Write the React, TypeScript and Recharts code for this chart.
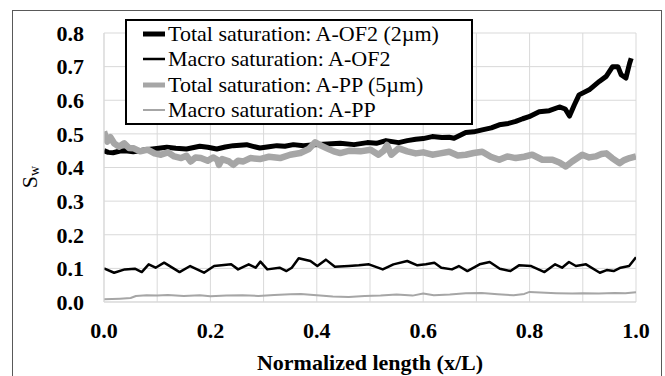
import { LineChart, Line, XAxis, YAxis, CartesianGrid, Legend } from "recharts";

// Total saturation A-OF2 (2um)
const ofTotalX = [0, 0.008, 0.017, 0.03, 0.04, 0.055, 0.075, 0.095, 0.118, 0.135, 0.155, 0.18, 0.195, 0.212, 0.228, 0.243, 0.268, 0.28, 0.293, 0.31, 0.325, 0.34, 0.356, 0.375, 0.395, 0.42, 0.444, 0.47, 0.495, 0.512, 0.53, 0.554, 0.57, 0.586, 0.6, 0.617, 0.635, 0.649, 0.658, 0.68, 0.695, 0.711, 0.728, 0.743, 0.76, 0.774, 0.787, 0.799, 0.818, 0.837, 0.856, 0.867, 0.875, 0.884, 0.893, 0.912, 0.931, 0.944, 0.956, 0.966, 0.972, 0.981, 0.988, 0.991];
const ofTotalY = [0.45, 0.445, 0.444, 0.449, 0.45, 0.447, 0.452, 0.456, 0.46, 0.457, 0.455, 0.463, 0.46, 0.455, 0.461, 0.465, 0.468, 0.463, 0.458, 0.462, 0.465, 0.463, 0.468, 0.465, 0.468, 0.47, 0.472, 0.468, 0.474, 0.472, 0.48, 0.474, 0.48, 0.484, 0.486, 0.492, 0.489, 0.49, 0.487, 0.504, 0.506, 0.512, 0.518, 0.527, 0.531, 0.537, 0.545, 0.551, 0.566, 0.569, 0.58, 0.574, 0.553, 0.586, 0.616, 0.631, 0.656, 0.671, 0.7, 0.7, 0.676, 0.666, 0.71, 0.725];

// Macro saturation A-OF2
const ofMacroX = [0, 0.019, 0.039, 0.058, 0.071, 0.084, 0.097, 0.113, 0.142, 0.162, 0.188, 0.207, 0.239, 0.252, 0.272, 0.285, 0.294, 0.307, 0.33, 0.343, 0.353, 0.366, 0.388, 0.401, 0.417, 0.434, 0.46, 0.479, 0.498, 0.524, 0.544, 0.57, 0.589, 0.605, 0.621, 0.634, 0.654, 0.667, 0.683, 0.706, 0.725, 0.744, 0.764, 0.78, 0.803, 0.828, 0.848, 0.861, 0.874, 0.887, 0.906, 0.932, 0.945, 0.958, 0.971, 0.987, 1];
const ofMacroY = [0.1, 0.087, 0.097, 0.099, 0.089, 0.112, 0.102, 0.117, 0.089, 0.107, 0.087, 0.107, 0.112, 0.097, 0.112, 0.102, 0.12, 0.097, 0.102, 0.092, 0.102, 0.13, 0.122, 0.107, 0.126, 0.105, 0.107, 0.109, 0.112, 0.097, 0.112, 0.122, 0.109, 0.112, 0.117, 0.102, 0.097, 0.107, 0.092, 0.112, 0.119, 0.099, 0.092, 0.109, 0.107, 0.089, 0.112, 0.102, 0.119, 0.107, 0.112, 0.087, 0.095, 0.092, 0.102, 0.107, 0.133];

// Total saturation A-PP (5um)
const ppTotalX = [0, 0.006, 0.012, 0.019, 0.028, 0.038, 0.047, 0.056, 0.068, 0.082, 0.095, 0.107, 0.12, 0.132, 0.145, 0.155, 0.163, 0.172, 0.182, 0.195, 0.205, 0.213, 0.216, 0.222, 0.235, 0.243, 0.252, 0.262, 0.275, 0.293, 0.31, 0.331, 0.35, 0.369, 0.385, 0.397, 0.408, 0.419, 0.432, 0.444, 0.462, 0.482, 0.501, 0.516, 0.526, 0.532, 0.54, 0.554, 0.57, 0.586, 0.6, 0.617, 0.632, 0.649, 0.665, 0.68, 0.695, 0.711, 0.727, 0.743, 0.758, 0.774, 0.79, 0.805, 0.824, 0.843, 0.856, 0.868, 0.88, 0.899, 0.912, 0.924, 0.935, 0.944, 0.955, 0.969, 0.978, 0.988, 1];
const ppTotalY = [0.507, 0.477, 0.49, 0.472, 0.462, 0.472, 0.458, 0.457, 0.448, 0.453, 0.442, 0.438, 0.445, 0.433, 0.428, 0.435, 0.418, 0.43, 0.428, 0.42, 0.43, 0.423, 0.408, 0.425, 0.418, 0.408, 0.42, 0.418, 0.428, 0.425, 0.432, 0.428, 0.438, 0.443, 0.455, 0.475, 0.465, 0.457, 0.448, 0.443, 0.45, 0.448, 0.453, 0.438, 0.45, 0.467, 0.438, 0.457, 0.448, 0.442, 0.445, 0.438, 0.442, 0.447, 0.436, 0.438, 0.443, 0.447, 0.432, 0.423, 0.433, 0.428, 0.432, 0.438, 0.423, 0.423, 0.415, 0.403, 0.418, 0.438, 0.43, 0.433, 0.44, 0.442, 0.428, 0.413, 0.422, 0.428, 0.433];

// Macro saturation A-PP
const ppMacroX = [0, 0.03, 0.05, 0.06, 0.08, 0.1, 0.12, 0.15, 0.18, 0.2, 0.23, 0.26, 0.29, 0.32, 0.35, 0.37, 0.4, 0.43, 0.46, 0.49, 0.52, 0.55, 0.58, 0.6, 0.62, 0.65, 0.68, 0.71, 0.74, 0.77, 0.79, 0.8, 0.82, 0.85, 0.88, 0.9, 0.93, 0.96, 0.98, 1];
const ppMacroY = [0.008, 0.01, 0.012, 0.018, 0.02, 0.019, 0.021, 0.018, 0.02, 0.017, 0.019, 0.02, 0.018, 0.021, 0.023, 0.024, 0.02, 0.016, 0.015, 0.018, 0.019, 0.022, 0.019, 0.025, 0.02, 0.022, 0.026, 0.027, 0.023, 0.02, 0.024, 0.03, 0.028, 0.026, 0.025, 0.026, 0.025, 0.027, 0.026, 0.029];

const xTicks = [0, 0.1, 0.2, 0.3, 0.4, 0.5, 0.6, 0.7, 0.8, 0.9, 1];
const yTicks = [0, 0.1, 0.2, 0.3, 0.4, 0.5, 0.6, 0.7, 0.8];

const toPts = (xs: number[], ys: number[]) => xs.map((x, i) => ({ x, y: ys[i] }));

const SERIES = [
  { name: "Total saturation: A-OF2 (2\u00b5m)", data: toPts(ofTotalX, ofTotalY), color: "#000000", width: 5 },
  { name: "Macro saturation: A-OF2", data: toPts(ofMacroX, ofMacroY), color: "#000000", width: 2.5 },
  { name: "Total saturation: A-PP (5\u00b5m)", data: toPts(ppTotalX, ppTotalY), color: "#a6a6a6", width: 6.5 },
  { name: "Macro saturation: A-PP", data: toPts(ppMacroX, ppMacroY), color: "#a6a6a6", width: 2 },
];

const FONT = '"Liberation Serif", "Times New Roman", Times, "DejaVu Serif", serif';
const tickStyle = { fontSize: 22, fontWeight: 700, fill: "#000", fontFamily: FONT };

function LegendBox() {
  return (
    <div style={{ border: "2px solid #000", background: "#fff", fontFamily: FONT, fontSize: 22, color: "#000", boxSizing: "border-box", width: 348, height: 106 }}>
      {SERIES.map((s) => (
        <div key={s.name} style={{ display: "flex", alignItems: "center", height: 25.5, whiteSpace: "nowrap" }}>
          <svg width={40} height={12} style={{ flexShrink: 0 }}>
            <line x1={16} x2={38} y1={6} y2={6} stroke={s.color} strokeWidth={Math.min(s.width, 5)} />
          </svg>
          <span style={{ marginLeft: 1 }}>{s.name}</span>
        </div>
      ))}
    </div>
  );
}

function SwLabel() {
  return (
    <text x={29} y={177} transform="rotate(-90, 29, 177)" textAnchor="middle" dominantBaseline="central"
      fontFamily={FONT} fontSize={22} fill="#000">
      S<tspan fontSize={14} dy={5}>w</tspan>
    </text>
  );
}

export default function App() {
  return (
    <div style={{ position: "absolute", left: 0, top: 0, width: 665, height: 376, overflow: "hidden", background: "#fff" }}>
      <div style={{ position: "absolute", left: 12, top: 10, width: 650, height: 400, border: "1px solid #595959", boxSizing: "border-box" }} />
      <div style={{ position: "absolute", left: 0, top: 0 }}>
        <LineChart width={665} height={376} margin={{ top: 33, right: 29, bottom: 4, left: 0 }}>
          <CartesianGrid stroke="#d9d9d9" strokeWidth={1} />
          <XAxis type="number" dataKey="x" domain={[0, 1]} ticks={xTicks} allowDataOverflow
            tickFormatter={(v: number) => (Math.round(v * 10) % 2 === 0 ? v.toFixed(1) : "")}
            tick={tickStyle} tickLine={false} axisLine={{ stroke: "#d9d9d9" }} tickMargin={14} height={70}
            label={{ value: "Normalized length (x/L)", position: "insideBottom", offset: 2, style: { fontSize: 22, fontWeight: 700, fill: "#000", fontFamily: FONT } }} />
          <YAxis type="number" domain={[0, 0.8]} ticks={yTicks} allowDataOverflow width={104}
            tickFormatter={(v: number) => v.toFixed(1)}
            tick={tickStyle} tickLine={false} axisLine={{ stroke: "#d9d9d9" }} tickMargin={14}
            label={<SwLabel />} />
          {SERIES.map((s) => (
            <Line key={s.name} data={s.data} dataKey="y" name={s.name} type="linear" stroke={s.color}
              strokeWidth={s.width} dot={false} isAnimationActive={false} strokeLinejoin="round" />
          ))}
          <Legend layout="vertical" align="center" verticalAlign="middle" content={() => <LegendBox />}
            wrapperStyle={{ left: 125, top: 19, width: 348, height: 106 }} />
        </LineChart>
      </div>
    </div>
  );
}
